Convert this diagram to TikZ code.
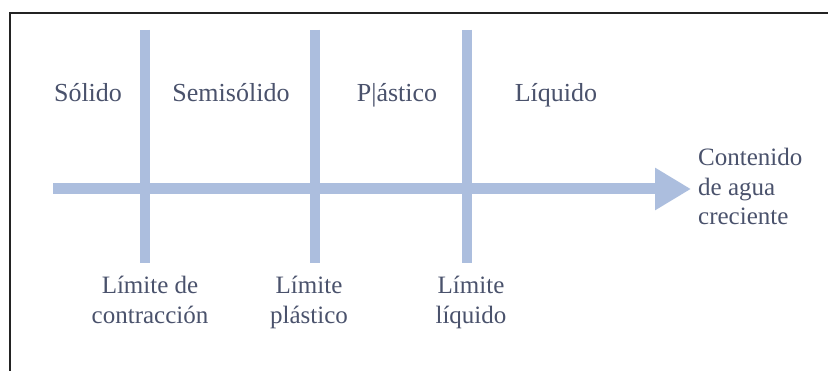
\documentclass[tikz,border=0pt]{standalone}
\usepackage{fontspec}
\setmainfont{Liberation Serif}
\usetikzlibrary{arrows.meta}
\definecolor{barblue}{RGB}{172,190,222}
\definecolor{txt}{RGB}{74,82,108}
\definecolor{frame}{RGB}{35,35,35}
\tikzset{
  lbl/.style={inner sep=0pt, text=txt, font=\fontsize{25}{29.5}\selectfont},
  toplbl/.style={lbl, font=\fontsize{26}{30}\selectfont},
  bar/.style={draw=barblue, line width=9.5pt},
}
\begin{document}
\begin{tikzpicture}[x=1pt,y=-1pt]
\useasboundingbox (0,0) rectangle (828,371);
\fill[white] (0,0) rectangle (828,371);
% frame
\coordinate (fc) at (10,13);
\coordinate (fr) at (828,13);
\coordinate (fb) at (10,371);
\draw[frame, line width=2.6pt] (fb) -- (fc) -- (fr);
% vertical bars
\foreach \n/\x in {a/145, b/315, c/467}{
  \coordinate (\n top) at (\x,30);
  \coordinate (\n bot) at (\x,263);
  \draw[bar] (\n top) -- (\n bot);
}
% axis arrow
\coordinate (axs) at (53,189);
\coordinate (axe) at (691,189);
\draw[draw=barblue, line width=11pt, -{Triangle[length=36pt,width=40pt]}] (axs) -- (axe);
% top labels
\node[toplbl, anchor=base] (solido) at (88,102) {Sólido};
\node[toplbl, anchor=base] (semi) at (231,102) {Semisólido};
\node[toplbl, anchor=base] (plast) at (397,102) {P|ástico};
\node[toplbl, anchor=base] (liq) at (556,102) {Líquido};
% right label
\node[lbl, anchor=north west, align=left] (agua) at (698,148) {Contenido\\de agua\\creciente};
% bottom labels
\node[lbl, anchor=north, align=center] (lc) at (150,276) {Límite de\\contracción};
\node[lbl, anchor=north, align=center] (lp) at (309,276) {Límite\\plástico};
\node[lbl, anchor=north, align=center] (ll) at (471,276) {Límite\\líquido};
\end{tikzpicture}
\end{document}
